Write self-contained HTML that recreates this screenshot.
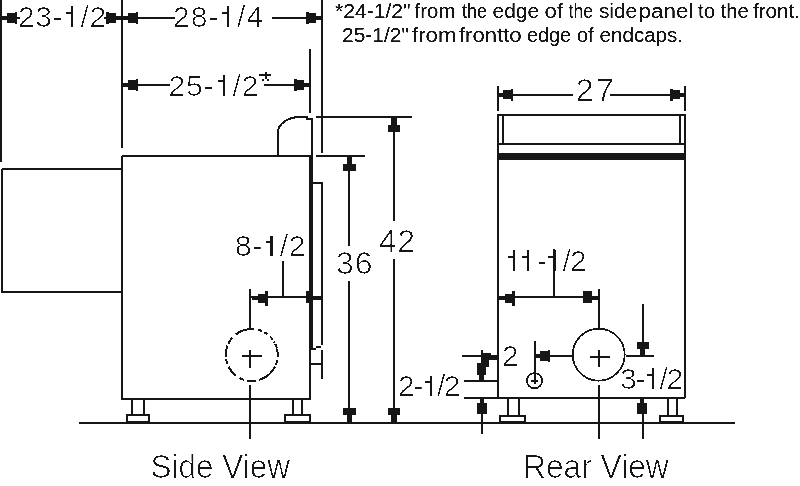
<!DOCTYPE html>
<html>
<head>
<meta charset="utf-8">
<style>
html,body{margin:0;padding:0;background:#fff;width:800px;height:486px;overflow:hidden}
svg{display:block;will-change:transform}
text{font-family:"Liberation Sans",sans-serif;fill:#161616;stroke:none;filter:url(#crisp)}
.b{font-size:30px}
.b2{font-size:32px}
.s{font-size:20px;stroke:none;filter:url(#crisp2)}
.t{font-size:32.5px}
</style>
</head>
<body>
<svg width="800" height="486" viewBox="0 0 800 486" shape-rendering="crispEdges">
<defs>
<filter id="crisp" x="-5%" y="-20%" width="110%" height="140%"><feComponentTransfer><feFuncA type="linear" slope="20" intercept="-17"/></feComponentTransfer></filter>
<filter id="crisp2" x="-5%" y="-20%" width="110%" height="140%"><feComponentTransfer><feFuncA type="linear" slope="4" intercept="-1.2"/></feComponentTransfer></filter>
<path id="ar" d="M0,-2.1 H-5 V-4.6 H-12.5 V-6.1 H-15 V6.1 H-12.5 V4.6 H-5 V2.1 H0 Z"/>
<path id="av" d="M0,-2.6 H-7.5 V-6.2 H-14.5 V6.2 H-7.5 V2.6 H0 Z"/>
<path id="ah" d="M0,-1 H-6.5 V-3.3 H-13.5 V-5.8 H-16 V8.6 H-13.5 V5.8 H-6.5 V3.4 H0 Z"/>
<path id="av2" d="M0,-2 H-3.5 V-4.8 H-15 V4.8 H-3.5 V2 H0 Z"/>
</defs>
<g stroke="#161616" stroke-width="2" fill="none">
<!-- top left verticals -->
<path d="M1,0 V162"/>
<path d="M122,0 V148"/>
<!-- 23-1/2 dim -->
<path d="M2,18 H20"/>
<path d="M104,18 H121"/>
<!-- 28-1/4 dim -->
<path d="M123,18 H175"/>
<path d="M272,18 H321"/>
<path d="M322.2,0 V152.5"/>
<!-- 25-1/2* dim -->
<path d="M310,49 V113"/>
<path d="M123,85 H170"/>
<path d="M264,85 H309"/>

<!-- side view left box -->
<path d="M1.7,168.5 H122 M1.7,168.5 V292 H122"/>
<!-- side body -->
<path d="M122,156.3 H311 M122,156.3 V398.5 H310.3 V348"/>
<path d="M277.7,156 V133 A22.3,16 0 0 1 300,117 H307 V119 H312.3 V156" />
<!-- extension lines -->
<path d="M316.3,117 H412"/>
<path d="M316.3,156.3 H365"/>
<!-- bracket / side rails -->
<path d="M313,183.3 H322.2 V344.8 M321.2,346.5 H316 M315.8,349 H311"/>
<path d="M310.3,363.7 H322.2 M322.2,350.3 V379"/>
<!-- 36 / 42 dims -->
<path d="M349.4,158 V246 M349.4,281 V422"/>
<path d="M394,118 V221.4 M394,259 V422"/>
<!-- 8-1/2 dims -->
<path d="M283,261 V297 M250,297 H322"/>
<path d="M250.3,288.6 V330 M250.3,385 V439"/>
<!-- dashed circle -->
<circle cx="251.75" cy="355" r="26" stroke-dasharray="2.41 2.90 4.95 1.45 21.19 2.95 9.71 2.99 4.54 4.54 11.34 3.18 4.54 2.72 11.34 2.09 6.99 4.99 19.51 3.63 4.08 2.72 3.63 3.18 4.54 1.82 1.82 1.36 4.54 0.64 7.08 0"/>
<path d="M242,356.2 H262 M250.4,350 V367.5"/>
<!-- feet side -->
<path d="M132.2,399 V415 M144,399 V415"/>
<rect x="127.2" y="415.4" width="21.8" height="7"/>
<path d="M292.6,399 V415 M302,399 V415"/>
<rect x="285.4" y="415.4" width="24.1" height="7"/>
<!-- floor -->
<path d="M79,423 H735"/>

<!-- rear view -->
<path d="M497.5,86 V111 M685.3,86 V111"/>
<path d="M498,94.7 H572.6 M610,94.7 H685"/>
<path d="M496.5,114.6 H686.3 M497.5,113.6 V398.2 M685.3,113.6 V398.2"/>
<path d="M502.6,114 V143.5 M680.2,114 V143.5 M497.5,143.5 H685.3"/>
<path d="M464,398.2 H685.3"/>
<!-- 11-1/2 -->
<path d="M554.2,249 V297 M498,297 H598.5 M598.5,288.7 V330 M598.5,385 V438.5"/>
<circle cx="598.7" cy="354.7" r="26" stroke-width="1.7"/>
<path d="M590,356.5 H609.6 M598.7,349.8 V366.5"/>
<path d="M550,356 H572 M626,356 H653.5"/>
<path d="M642.8,303.7 V350"/>
<path d="M643.2,405 V438.7"/>
<!-- small symbol -->
<path d="M534.6,340.5 V384 M531,381.2 H538"/>
<circle cx="534.5" cy="380.7" r="7.6" stroke-width="1.8"/>
<!-- left dims rear -->
<path d="M462,356 H497 M464,381 H497 M482,350 V380 M482,405 V433.6"/>
<!-- feet rear -->
<path d="M507.8,399 V415 M519.1,399 V415"/>
<rect x="500.3" y="415.6" width="24.5" height="6.6"/>
<path d="M668,399 V415 M677.3,399 V415"/>
<rect x="660.4" y="415.6" width="22.4" height="6.6"/>
</g>
<!-- thick -->
<rect x="309" y="156" width="4.4" height="192.5" fill="#161616"/>
<rect x="497.5" y="153" width="187.8" height="6.8" fill="#161616"/>

<!-- arrows -->
<g fill="#161616">
<use href="#ar" transform="translate(2,18) rotate(180)"/>
<use href="#ar" transform="translate(121,18)"/>
<use href="#ar" transform="translate(123,18) rotate(180)"/>
<use href="#ar" transform="translate(321,18)"/>
<use href="#ar" transform="translate(123,85) rotate(180)"/>
<use href="#ar" transform="translate(309,85)"/>
<use href="#av" transform="translate(349.4,156.8) rotate(-90)"/>
<use href="#av" transform="translate(349.4,422) rotate(90)"/>
<use href="#av" transform="translate(394,117.8) rotate(-90)"/>
<use href="#av" transform="translate(394,422) rotate(90)"/>
<use href="#ah" transform="translate(251.5,297) scale(-1,1)"/>
<path d="M321.5,296 V300.4 H313 V302.8 H306.3 V291.2 H313 V296 Z"/>
<use href="#ar" transform="translate(498,94.7) rotate(180)"/>
<use href="#ar" transform="translate(685,94.7)"/>
<use href="#ah" transform="translate(498.5,297) scale(-1,1)"/>
<path d="M597.5,296 V300.4 H592 V302.8 H583 V291.2 H592 V296 Z"/>
<use href="#ar" transform="translate(535,356) rotate(180)"/>
<use href="#av" transform="translate(642.8,356) rotate(90)"/>
<use href="#av2" transform="translate(642,399) rotate(-90)"/>
<path d="M482.4,352.8 H491 V355.3 H497 V359.8 H488.6 V367 H482.4 Z"/>
<path d="M476.6,362.7 H486 V374.7 H484 V380.4 H479 V374.7 H476.6 Z"/>
<use href="#av2" transform="translate(481.7,399) rotate(-90)"/>
</g>

<!-- texts -->
<text class="b" x="18.0" y="27.0" textLength="88.1" lengthAdjust="spacing">23- /2</text>
<text class="b" x="173.0" y="27.0" textLength="90.1" lengthAdjust="spacing">28- /4</text>
<text class="b" x="168.4" y="95.5" textLength="90.1" lengthAdjust="spacing">25- /2</text>
<text class="s" x="335.0" y="17.6" textLength="75.6" lengthAdjust="spacingAndGlyphs">*24-1/2"</text>
<text class="s" x="414.6" y="17.6" textLength="40.8" lengthAdjust="spacingAndGlyphs">from</text>
<text class="s" x="462.0" y="17.6" textLength="25.0" lengthAdjust="spacingAndGlyphs">the</text>
<text class="s" x="492.6" y="17.6" textLength="46.5" lengthAdjust="spacingAndGlyphs">edge</text>
<text class="s" x="544.6" y="17.6" textLength="18.4" lengthAdjust="spacingAndGlyphs">of</text>
<text class="s" x="568.5" y="17.6" textLength="24.6" lengthAdjust="spacingAndGlyphs">the</text>
<text class="s" x="599.0" y="17.6" textLength="38.0" lengthAdjust="spacingAndGlyphs">side</text>
<text class="s" x="638.6" y="17.6" textLength="54.8" lengthAdjust="spacingAndGlyphs">panel</text>
<text class="s" x="698.0" y="17.6" textLength="17.0" lengthAdjust="spacingAndGlyphs">to</text>
<text class="s" x="720.6" y="17.6" textLength="28.2" lengthAdjust="spacingAndGlyphs">the</text>
<text class="s" x="753.0" y="17.6" textLength="47.0" lengthAdjust="spacingAndGlyphs">front.</text>
<text class="s" x="342.0" y="41.8" textLength="67.0" lengthAdjust="spacingAndGlyphs">25-1/2"</text>
<text class="s" x="412.0" y="41.8" textLength="44.4" lengthAdjust="spacingAndGlyphs">from</text>
<text class="s" x="459.0" y="41.8" textLength="44.0" lengthAdjust="spacingAndGlyphs">front</text>
<text class="s" x="503.0" y="41.8" textLength="18.6" lengthAdjust="spacingAndGlyphs">to</text>
<text class="s" x="527.0" y="41.8" textLength="44.0" lengthAdjust="spacingAndGlyphs">edge</text>
<text class="s" x="577.0" y="41.8" textLength="16.6" lengthAdjust="spacingAndGlyphs">of</text>
<text class="s" x="599.6" y="41.8" textLength="83.4" lengthAdjust="spacingAndGlyphs">endcaps.</text>
<text class="b" x="235.0" y="256.1" textLength="70.4" lengthAdjust="spacing">8- /2</text>
<text class="b2" x="336.0" y="273.6" textLength="36.6" lengthAdjust="spacing">36</text>
<text class="b2" x="379.0" y="251.8" textLength="36.0" lengthAdjust="spacing">42</text>
<text class="b2" x="575.8" y="100.7" textLength="38.1" lengthAdjust="spacing">27</text>
<text class="b" x="505.0" y="270.9" textLength="81.8" lengthAdjust="spacing">  - /2</text>
<text class="b" x="502.0" y="366.4">2</text>
<text class="b" x="398.1" y="396.4" textLength="62.3" lengthAdjust="spacing">2- /2</text>
<text class="b" x="620.1" y="389.0" textLength="63.1" lengthAdjust="spacing">3- /2</text>
<text class="t" x="150.6" y="477.8" lengthAdjust="spacingAndGlyphs" textLength="139.3">Side View</text>
<text class="t" x="523.0" y="478.0" lengthAdjust="spacingAndGlyphs" textLength="145.8">Rear View</text>
<path d="M259.3,74 H271.3 V76 H259.3 Z M264.5,71.6 H266.6 V78.5 H264.5 Z M261.7,78.8 H263.9 V81 H261.7 Z M267,78.8 H269.2 V81 H267 Z" fill="#161616"/>
<g fill="#161616" class="ones">
<path d="M70.98,27.00 V6.40 H73.18 V27.00 Z M66.08,11.60 H71.08 V13.80 H66.08 Z"/>
<path d="M227.18,27.00 V6.40 H229.38 V27.00 Z M222.28,11.60 H227.28 V13.80 H222.28 Z"/>
<path d="M222.58,95.50 V74.90 H224.78 V95.50 Z M217.68,80.10 H222.68 V82.30 H217.68 Z"/>
<path d="M270.48,256.10 V235.50 H272.68 V256.10 Z M265.58,240.70 H270.58 V242.90 H265.58 Z"/>
<path d="M512.80,270.90 V250.30 H515.00 V270.90 Z M507.90,255.50 H512.90 V257.70 H507.90 Z"/>
<path d="M527.05,270.90 V250.30 H529.25 V270.90 Z M522.15,255.50 H527.15 V257.70 H522.15 Z"/>
<path d="M553.31,270.90 V250.30 H555.51 V270.90 Z M548.41,255.50 H553.41 V257.70 H548.41 Z"/>
<path d="M429.53,396.40 V375.80 H431.73 V396.40 Z M424.63,381.00 H429.63 V383.20 H424.63 Z"/>
<path d="M651.93,389.00 V368.40 H654.13 V389.00 Z M647.03,373.60 H652.03 V375.80 H647.03 Z"/>
</g>
</svg>
</body>
</html>
